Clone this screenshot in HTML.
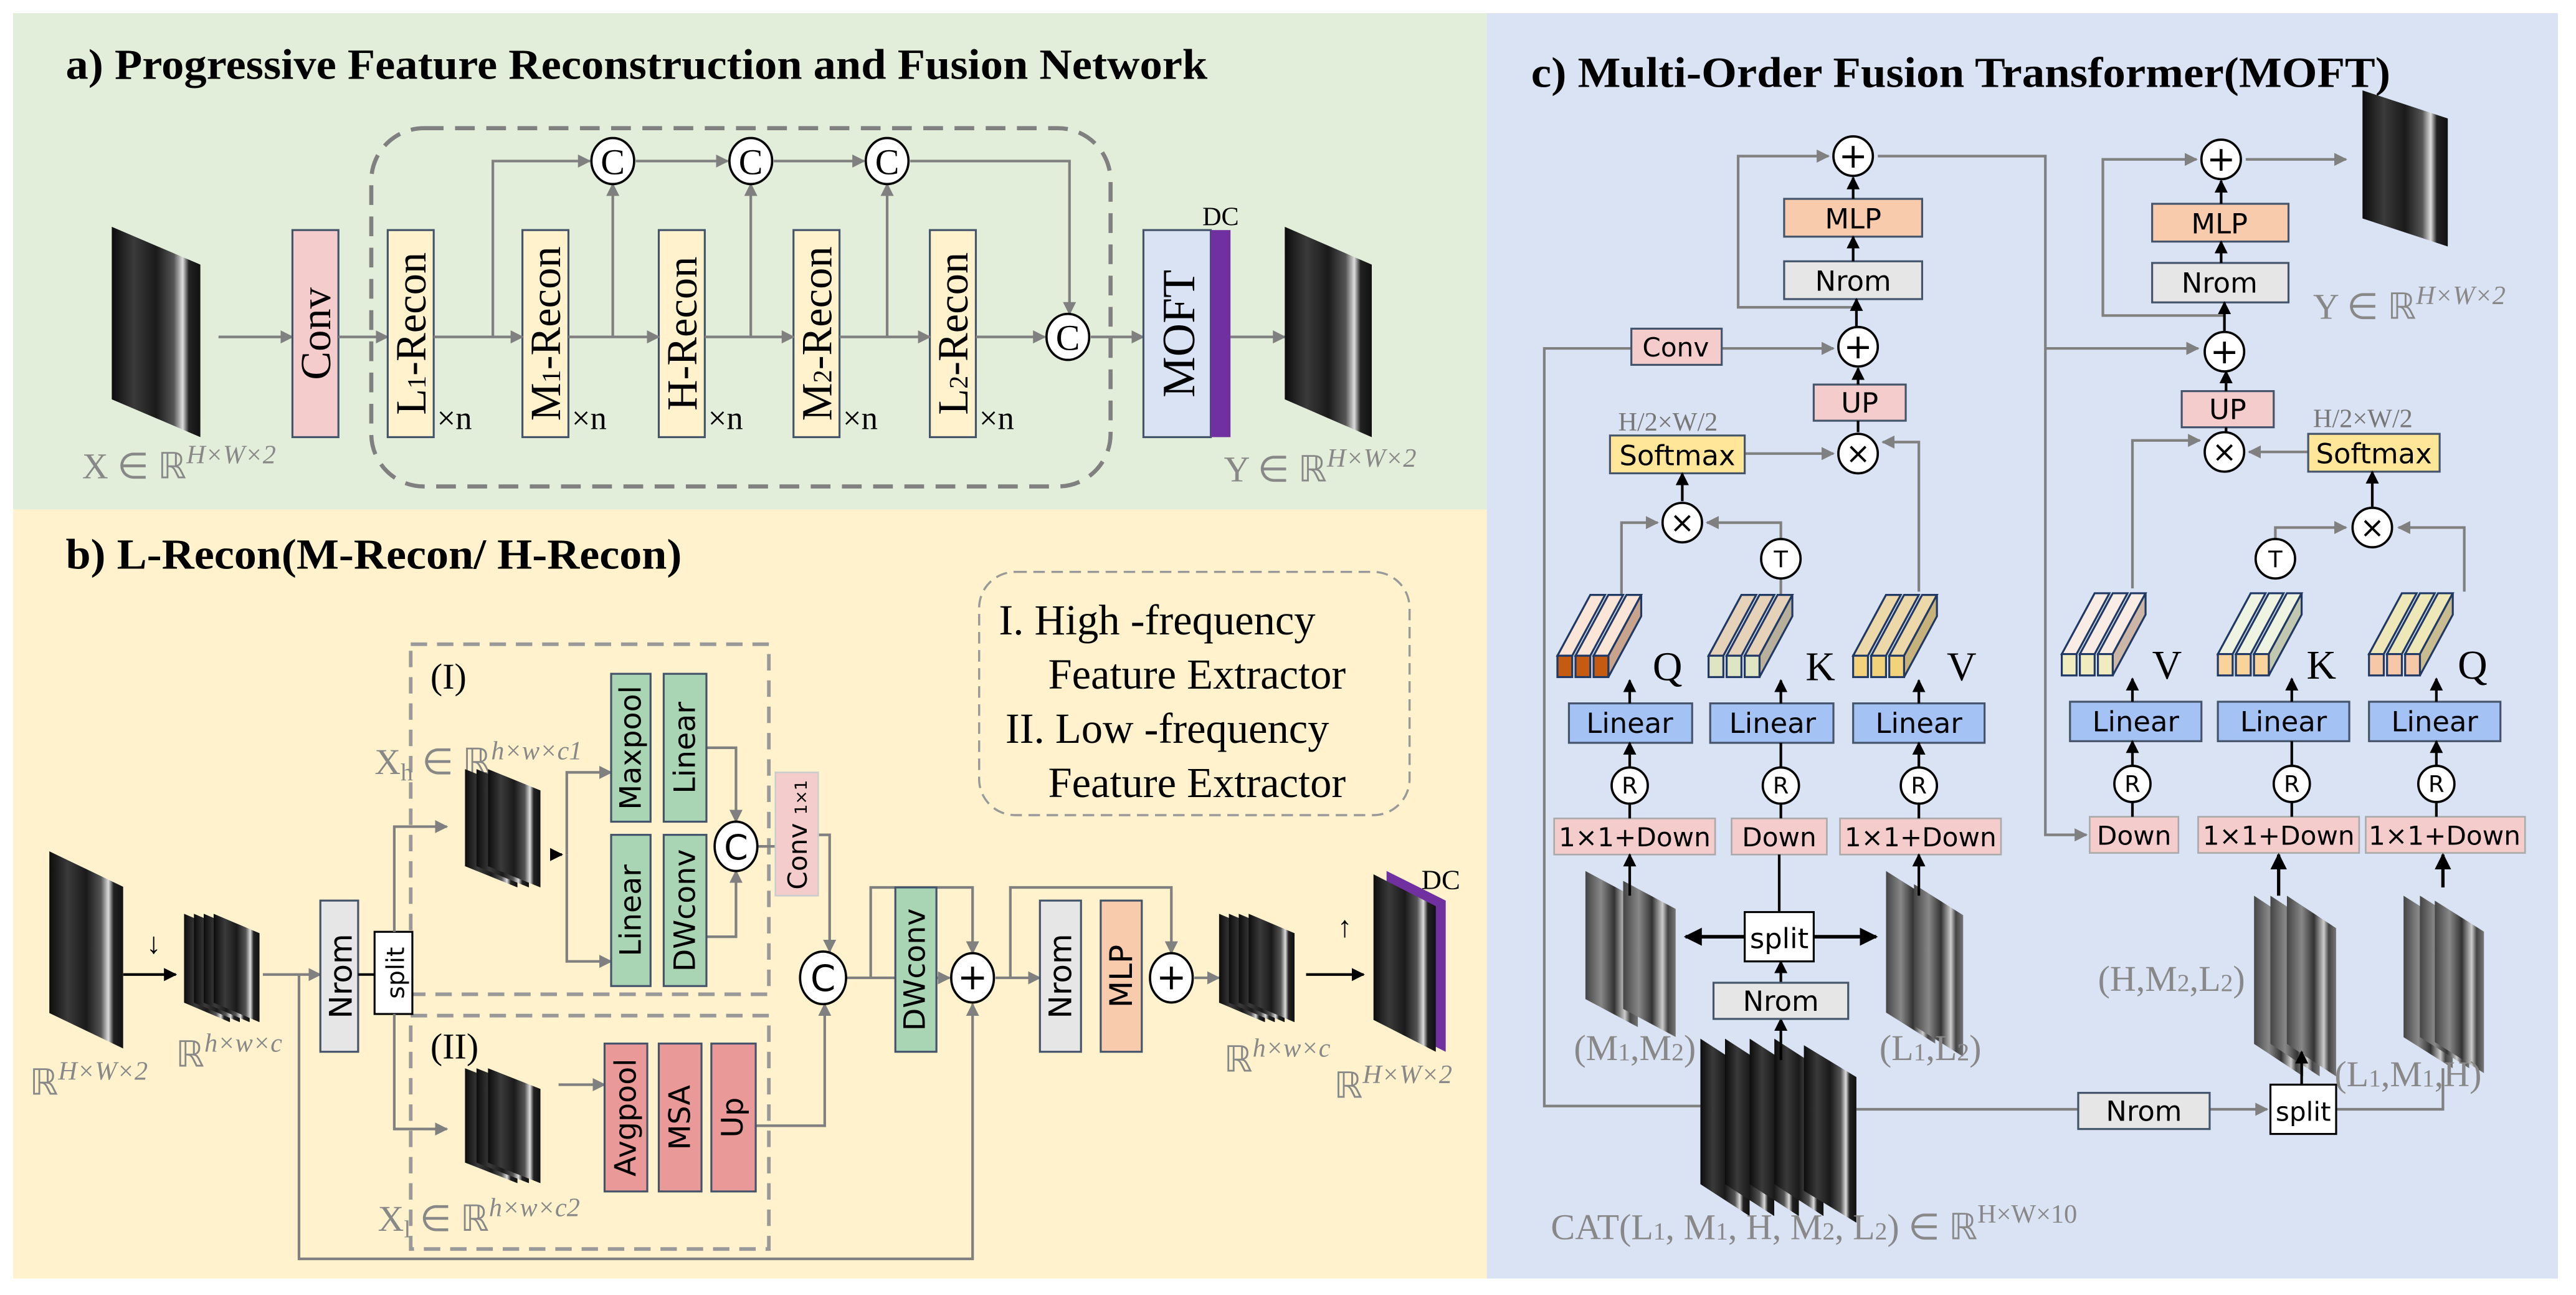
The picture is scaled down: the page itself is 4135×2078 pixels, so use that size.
<!DOCTYPE html>
<html><head><meta charset="utf-8"><style>
html,body{margin:0;padding:0;background:#fff}
svg{display:block}
.s{font-family:"Liberation Serif",serif}
.a{font-family:"DejaVu Sans","Liberation Sans",sans-serif}
.g{stroke:#808080;stroke-width:1.6;fill:none}
.k{stroke:#000;stroke-width:1.6;fill:none}
.bx{stroke:#44546a;stroke-width:1.2}
.cir{fill:#fff;stroke:#000;stroke-width:1.4}
</style></head><body>
<svg width="4135" height="2078" viewBox="0 0 1568 788" preserveAspectRatio="none" xmlns="http://www.w3.org/2000/svg">
<defs>
<linearGradient id="mg" x1="0" y1="0" x2="1" y2="0">
<stop offset="0" stop-color="#0c0c0c"/><stop offset="0.25" stop-color="#3a3a3a"/><stop offset="0.5" stop-color="#1a1a1a"/><stop offset="0.7" stop-color="#555"/><stop offset="0.8" stop-color="#ddd"/><stop offset="0.87" stop-color="#222"/><stop offset="1" stop-color="#111"/></linearGradient>
<linearGradient id="mg2" x1="0" y1="0" x2="1" y2="0">
<stop offset="0" stop-color="#444"/><stop offset="0.3" stop-color="#888"/><stop offset="0.55" stop-color="#333"/><stop offset="0.75" stop-color="#ccc"/><stop offset="0.85" stop-color="#444"/><stop offset="1" stop-color="#777"/></linearGradient>
<symbol id="mri" viewBox="0 0 50 100" preserveAspectRatio="none"><polygon points="0,0 50,18 50,100 0,82" fill="url(#mg)"/></symbol>
<symbol id="mri2" viewBox="0 0 50 100" preserveAspectRatio="none"><polygon points="0,0 50,18 50,100 0,82" fill="url(#mg2)"/></symbol>
<marker id="ag" viewBox="0 0 10 10" refX="9" refY="5" markerWidth="5" markerHeight="5" orient="auto"><path d="M0,0L10,5L0,10z" fill="#808080"/></marker>
<marker id="ab" viewBox="0 0 10 10" refX="9" refY="5" markerWidth="5" markerHeight="5" orient="auto"><path d="M0,0L10,5L0,10z" fill="#000"/></marker>
</defs>

<rect x="8" y="8" width="897" height="302" fill="#e2eed9"/>
<rect x="8" y="310" width="897" height="468" fill="#fff2cc"/>
<rect x="905" y="8" width="652" height="770" fill="#dae3f3"/>

<!-- ===== Panel a ===== -->
<text x="40" y="48" class="s" font-size="26" font-weight="bold" textLength="695" lengthAdjust="spacingAndGlyphs">a) Progressive Feature Reconstruction and Fusion Network</text>
<use href="#mri" x="68" y="138" width="54" height="128"/>
<text x="50" y="291" class="s" font-size="22" fill="#888">X ∈ ℝ<tspan font-style="italic" font-size="16" dy="-9">H×W×2</tspan></text>
<line x1="133" y1="205" x2="178" y2="205" class="g" marker-end="url(#ag)"/>
<rect x="178" y="140" width="28" height="126" fill="#f4cccc" class="bx"/>
<text transform="rotate(-90 192 203)" x="192" y="212" class="s" font-size="26" text-anchor="middle">Conv</text>
<rect x="226" y="78" width="450" height="218" rx="32" fill="none" stroke="#808080" stroke-width="2.5" stroke-dasharray="12,7"/>
<line x1="206" y1="205" x2="236" y2="205" class="g" marker-end="url(#ag)"/>
<g class="bx" fill="#fff2cc">
<rect x="236" y="140" width="28" height="126"/><rect x="318" y="140" width="28" height="126"/><rect x="401" y="140" width="28" height="126"/><rect x="483" y="140" width="28" height="126"/><rect x="566" y="140" width="28" height="126"/></g>
<g class="s" font-size="26" text-anchor="middle">
<text transform="rotate(-90 250 203)" x="250" y="212">L<tspan font-size="16">1</tspan>-Recon</text>
<text transform="rotate(-90 332 203)" x="332" y="212">M<tspan font-size="16">1</tspan>-Recon</text>
<text transform="rotate(-90 415 203)" x="415" y="212">H-Recon</text>
<text transform="rotate(-90 497 203)" x="497" y="212">M<tspan font-size="16">2</tspan>-Recon</text>
<text transform="rotate(-90 580 203)" x="580" y="212">L<tspan font-size="16">2</tspan>-Recon</text>
</g>
<g class="s" font-size="20"><text x="266" y="261">×n</text><text x="348" y="261">×n</text><text x="431" y="261">×n</text><text x="513" y="261">×n</text><text x="596" y="261">×n</text></g>
<g class="g">
<line x1="264" y1="205" x2="318" y2="205" marker-end="url(#ag)"/>
<line x1="346" y1="205" x2="401" y2="205" marker-end="url(#ag)"/>
<line x1="429" y1="205" x2="483" y2="205" marker-end="url(#ag)"/>
<line x1="511" y1="205" x2="566" y2="205" marker-end="url(#ag)"/>
<line x1="594" y1="205" x2="636" y2="205" marker-end="url(#ag)"/>
<polyline points="300,205 300,98 359,98" marker-end="url(#ag)"/>
<line x1="387" y1="98" x2="443" y2="98" marker-end="url(#ag)"/>
<line x1="471" y1="98" x2="526" y2="98" marker-end="url(#ag)"/>
<polyline points="554,98 651,98 651,191" marker-end="url(#ag)"/>
<line x1="373" y1="205" x2="373" y2="112" marker-end="url(#ag)"/>
<line x1="457" y1="205" x2="457" y2="112" marker-end="url(#ag)"/>
<line x1="540" y1="205" x2="540" y2="112" marker-end="url(#ag)"/>
<line x1="664" y1="205" x2="696" y2="205" marker-end="url(#ag)"/>
<line x1="749" y1="205" x2="782" y2="205" marker-end="url(#ag)"/>
</g>
<g class="cir"><ellipse cx="373" cy="98" rx="13" ry="14"/><ellipse cx="457" cy="98" rx="13" ry="14"/><ellipse cx="540" cy="98" rx="13" ry="14"/><ellipse cx="650" cy="205" rx="13" ry="14"/></g>
<g class="s" font-size="22" text-anchor="middle"><text x="373" y="106">C</text><text x="457" y="106">C</text><text x="540" y="106">C</text><text x="650" y="213">C</text></g>
<rect x="696" y="140" width="41" height="126" fill="#dae3f3" class="bx"/>
<rect x="737" y="140" width="12" height="126" fill="#7030a0"/>
<text transform="rotate(-90 717 203)" x="717" y="213" class="s" font-size="28" text-anchor="middle">MOFT</text>
<text x="743" y="137" class="s" font-size="16" text-anchor="middle">DC</text>
<use href="#mri" x="782" y="138" width="53" height="128"/>
<text x="745" y="293" class="s" font-size="22" fill="#888">Y ∈ ℝ<tspan font-style="italic" font-size="16" dy="-9">H×W×2</tspan></text>

<!-- ===== Panel b ===== -->
<text x="40" y="346" class="s" font-size="26" font-weight="bold" textLength="375" lengthAdjust="spacingAndGlyphs">b) L-Recon(M-Recon/ H-Recon)</text>
<rect x="596" y="348" width="262" height="148" rx="22" fill="none" stroke="#999" stroke-width="1.3" stroke-dasharray="7,4"/>
<g class="s" font-size="26"><text x="608" y="386">I. High -frequency</text><text x="638" y="419">Feature Extractor</text><text x="612" y="452">II. Low -frequency</text><text x="638" y="485">Feature Extractor</text></g>
<rect x="250" y="392" width="218" height="213" fill="none" stroke="#999" stroke-width="2.2" stroke-dasharray="10,6"/>
<rect x="250" y="618" width="218" height="142" fill="none" stroke="#999" stroke-width="2.2" stroke-dasharray="10,6"/>
<g class="s" font-size="22"><text x="262" y="419">(I)</text><text x="262" y="644">(II)</text></g>
<text x="228" y="471" class="s" font-size="22" fill="#888">X<tspan font-size="15" dy="4">h</tspan><tspan dy="-4"> ∈ ℝ</tspan><tspan font-style="italic" font-size="16" dy="-9">h×w×c1</tspan></text>
<text x="230" y="749" class="s" font-size="22" fill="#888">X<tspan font-size="15" dy="4">l</tspan><tspan dy="-4"> ∈ ℝ</tspan><tspan font-style="italic" font-size="16" dy="-9">h×w×c2</tspan></text>
<use href="#mri" x="30" y="518" width="45" height="120"/>
<text x="18" y="666" class="s" font-size="22" fill="#888">ℝ<tspan font-style="italic" font-size="16" dy="-9">H×W×2</tspan></text>
<text x="89" y="580" class="s" font-size="18">↓</text>
<line x1="75" y1="593" x2="107" y2="593" class="k" stroke-width="2.2" marker-end="url(#ab)"/>
<use href="#mri" x="112" y="556" width="28" height="66"/><use href="#mri" x="118" y="556" width="28" height="66"/><use href="#mri" x="124" y="556" width="28" height="66"/><use href="#mri" x="130" y="556" width="28" height="66"/>
<text x="107" y="649" class="s" font-size="22" fill="#888">ℝ<tspan font-style="italic" font-size="16" dy="-9">h×w×c</tspan></text>
<line x1="160" y1="593" x2="195" y2="593" class="g" marker-end="url(#ag)"/>
<rect x="195" y="548" width="23" height="92" fill="#e7e6e6" class="bx"/>
<text transform="rotate(-90 207 594)" x="207" y="601" class="a" font-size="19" text-anchor="middle">Nrom</text>
<rect x="228" y="567" width="23" height="50" fill="#fff" stroke="#000" stroke-width="1.2"/>
<text transform="rotate(-90 240 592)" x="240" y="598" class="a" font-size="15" text-anchor="middle">split</text>
<line x1="218" y1="593" x2="228" y2="593" stroke="#000" stroke-width="1.5"/>
<g class="g">
<polyline points="240,567 240,503 272,503" marker-end="url(#ag)"/>
<polyline points="240,617 240,687 272,687" marker-end="url(#ag)"/>
<polyline points="182,593 182,766 592,766 592,611" marker-end="url(#ag)"/>
</g>
<use href="#mri" x="283" y="468" width="32" height="72"/><use href="#mri" x="290" y="468" width="32" height="72"/><use href="#mri" x="297" y="468" width="32" height="72"/>
<use href="#mri" x="283" y="650" width="32" height="70"/><use href="#mri" x="290" y="650" width="32" height="70"/><use href="#mri" x="297" y="650" width="32" height="70"/>
<line x1="335" y1="520" x2="342" y2="520" class="k" marker-end="url(#ab)"/>
<g class="g"><polyline points="345,520 345,470 372,470" marker-end="url(#ag)"/><polyline points="345,520 345,585 372,585" marker-end="url(#ag)"/>
<polyline points="430,455 448,455 448,500" marker-end="url(#ag)"/><polyline points="430,570 448,570 448,530" marker-end="url(#ag)"/>
<line x1="461" y1="515" x2="472" y2="515"/>
<polyline points="498,508 505,508 505,579" marker-end="url(#ag)"/>
<line x1="340" y1="660" x2="368" y2="660" marker-end="url(#ag)"/>
<polyline points="460,685 502,685 502,611" marker-end="url(#ag)"/>
<line x1="515" y1="595" x2="545" y2="595"/>
<line x1="570" y1="595" x2="578" y2="595" marker-end="url(#ag)"/>
<polyline points="530,595 530,540 592,540 592,580" marker-end="url(#ag)"/>
<line x1="606" y1="595" x2="633" y2="595" marker-end="url(#ag)"/>
<polyline points="615,595 615,540 713,540 713,580" marker-end="url(#ag)"/>
<line x1="727" y1="595" x2="742" y2="595" marker-end="url(#ag)"/>
</g>
<g class="bx" fill="#a9d5b5">
<rect x="372" y="410" width="24" height="90"/><rect x="404" y="410" width="26" height="90"/>
<rect x="372" y="508" width="24" height="92"/><rect x="404" y="508" width="26" height="92"/>
<rect x="545" y="540" width="25" height="100"/></g>
<g class="a" font-size="18" text-anchor="middle">
<text transform="rotate(-90 384 455)" x="384" y="461">Maxpool</text>
<text transform="rotate(-90 417 455)" x="417" y="461">Linear</text>
<text transform="rotate(-90 384 554)" x="384" y="560">Linear</text>
<text transform="rotate(-90 417 554)" x="417" y="560">DWconv</text>
<text transform="rotate(-90 557 590)" x="557" y="596">DWconv</text>
</g>
<rect x="472" y="470" width="26" height="75" fill="#f4cccc" stroke="#ccc"/>
<text transform="rotate(-90 485 508)" x="485" y="514" class="a" font-size="16" text-anchor="middle">Conv <tspan font-size="10">1×1</tspan></text>
<ellipse cx="448" cy="515" rx="13" ry="15" class="cir"/><text x="448" y="523" class="a" font-size="21" text-anchor="middle">C</text>
<ellipse cx="501" cy="595" rx="14" ry="16" class="cir"/><text x="501" y="603" class="a" font-size="22" text-anchor="middle">C</text>
<g class="bx" fill="#ea9999"><rect x="368" y="635" width="26" height="90"/><rect x="401" y="635" width="26" height="90"/><rect x="433" y="635" width="27" height="90"/></g>
<g class="a" font-size="18" text-anchor="middle">
<text transform="rotate(-90 381 680)" x="381" y="686">Avgpool</text>
<text transform="rotate(-90 414 680)" x="414" y="686">MSA</text>
<text transform="rotate(-90 446 680)" x="446" y="686">Up</text></g>
<ellipse cx="592" cy="595" rx="13" ry="15" class="cir"/><text x="592" y="602" class="a" font-size="22" text-anchor="middle">+</text>
<rect x="633" y="548" width="25" height="92" fill="#e7e6e6" class="bx"/>
<rect x="670" y="548" width="25" height="92" fill="#f8cbad" class="bx"/>
<text transform="rotate(-90 645 594)" x="645" y="601" class="a" font-size="19" text-anchor="middle">Nrom</text>
<text transform="rotate(-90 682 594)" x="682" y="601" class="a" font-size="19" text-anchor="middle">MLP</text>
<ellipse cx="713" cy="595" rx="13" ry="15" class="cir"/><text x="713" y="602" class="a" font-size="22" text-anchor="middle">+</text>
<use href="#mri" x="742" y="556" width="28" height="66"/><use href="#mri" x="748" y="556" width="28" height="66"/><use href="#mri" x="754" y="556" width="28" height="66"/><use href="#mri" x="760" y="556" width="28" height="66"/>
<text x="745" y="652" class="s" font-size="22" fill="#888">ℝ<tspan font-style="italic" font-size="16" dy="-9">h×w×c</tspan></text>
<text x="814" y="570" class="s" font-size="18">↑</text>
<line x1="795" y1="593" x2="830" y2="593" class="k" stroke-width="2.2" marker-end="url(#ab)"/>
<polygon points="844,530 880,548 880,640 844,622" fill="#7030a0"/>
<use href="#mri" x="836" y="532" width="38" height="108"/>
<text x="877" y="541" class="s" font-size="17" text-anchor="middle">DC</text>
<text x="812" y="668" class="s" font-size="22" fill="#888">ℝ<tspan font-style="italic" font-size="16" dy="-9">H×W×2</tspan></text>

<!-- ===== Panel c ===== -->
<text x="932" y="53" class="s" font-size="26" font-weight="bold" textLength="523" lengthAdjust="spacingAndGlyphs">c) Multi-Order Fusion Transformer(MOFT)</text>
<g class="g">
<polyline points="1035,673 940,673 940,212 993,212"/>
<line x1="1048" y1="212" x2="1116" y2="212" marker-end="url(#ag)"/>
<polyline points="1131,187 1058,187 1058,95 1113,95" marker-end="url(#ag)"/>
<polyline points="1143,95 1245,95 1245,508 1270,508" marker-end="url(#ag)"/>
<line x1="1245" y1="212" x2="1338" y2="212" marker-end="url(#ag)"/>
<line x1="1062" y1="276" x2="1116" y2="276" marker-end="url(#ag)"/>
<polyline points="1168,360 1168,269 1146,269" marker-end="url(#ag)"/>
<polyline points="987,362 987,318 1009,318" marker-end="url(#ag)"/>
<polyline points="1084,352 1084,318 1039,318" marker-end="url(#ag)"/>
<line x1="1084" y1="362" x2="1084" y2="352"/>
<polyline points="1354,192 1280,192 1280,97 1337,97" marker-end="url(#ag)"/>
<line x1="1367" y1="97" x2="1428" y2="97" marker-end="url(#ag)"/>
<line x1="1405" y1="275" x2="1369" y2="275" marker-end="url(#ag)"/>
<polyline points="1298,358 1298,268 1339,268" marker-end="url(#ag)"/>
<polyline points="1385,352 1385,321 1428,321" marker-end="url(#ag)"/>
<polyline points="1500,360 1500,321 1460,321" marker-end="url(#ag)"/>
<line x1="1130" y1="675" x2="1265" y2="675"/>
<line x1="1345" y1="675" x2="1380" y2="675" marker-end="url(#ag)"/>
<polyline points="1422,675 1487,675 1487,650"/>
</g>
<rect x="1086" y="121" width="84" height="23" fill="#f8cbad" class="bx"/><text x="1128" y="139" class="a" font-size="17" text-anchor="middle">MLP</text>
<rect x="1086" y="159" width="84" height="23" fill="#e7e6e6" class="bx"/><text x="1128" y="177" class="a" font-size="17" text-anchor="middle">Nrom</text>
<rect x="1104" y="234" width="56" height="22" fill="#f4cccc" class="bx"/><text x="1132" y="251" class="a" font-size="17" text-anchor="middle">UP</text>
<rect x="993" y="200" width="55" height="22" fill="#f4cccc" class="bx"/><text x="1020" y="217" class="a" font-size="16" text-anchor="middle">Conv</text>
<rect x="980" y="265" width="82" height="23" fill="#ffe699" class="bx"/><text x="1021" y="283" class="a" font-size="17" text-anchor="middle">Softmax</text>
<text x="985" y="262" class="s" font-size="16" fill="#777">H/2×W/2</text>
<g class="k">
<line x1="1128" y1="121" x2="1128" y2="108" marker-end="url(#ab)"/>
<line x1="1128" y1="159" x2="1128" y2="144" marker-end="url(#ab)"/>
<line x1="1130" y1="199" x2="1130" y2="182" marker-end="url(#ab)"/>
<line x1="1131" y1="234" x2="1131" y2="224" marker-end="url(#ab)"/>
<line x1="1131" y1="263" x2="1131" y2="256"/>
<line x1="1024" y1="305" x2="1024" y2="288" marker-end="url(#ab)"/>
</g>
<g class="cir"><circle cx="1128" cy="95" r="12"/><circle cx="1131" cy="211" r="12"/><circle cx="1131" cy="276" r="12"/><circle cx="1024" cy="318" r="12"/><circle cx="1084" cy="340" r="12"/></g>
<g class="a" text-anchor="middle"><text x="1128" y="102" font-size="21">+</text><text x="1131" y="218" font-size="21">+</text><text x="1131" y="282" font-size="18">×</text><text x="1024" y="324" font-size="18">×</text><text x="1084" y="345" font-size="14">T</text></g>
<rect x="1310" y="124" width="83" height="23" fill="#f8cbad" class="bx"/><text x="1351" y="142" class="a" font-size="17" text-anchor="middle">MLP</text>
<rect x="1310" y="160" width="83" height="24" fill="#e7e6e6" class="bx"/><text x="1351" y="178" class="a" font-size="17" text-anchor="middle">Nrom</text>
<rect x="1328" y="238" width="56" height="22" fill="#f4cccc" class="bx"/><text x="1356" y="255" class="a" font-size="17" text-anchor="middle">UP</text>
<rect x="1405" y="264" width="80" height="23" fill="#ffe699" class="bx"/><text x="1445" y="282" class="a" font-size="17" text-anchor="middle">Softmax</text>
<text x="1408" y="260" class="s" font-size="16" fill="#777">H/2×W/2</text>
<g class="k">
<line x1="1352" y1="124" x2="1352" y2="110" marker-end="url(#ab)"/>
<line x1="1352" y1="160" x2="1352" y2="147" marker-end="url(#ab)"/>
<line x1="1354" y1="202" x2="1354" y2="184" marker-end="url(#ab)"/>
<line x1="1355" y1="238" x2="1355" y2="226" marker-end="url(#ab)"/>
<line x1="1355" y1="263" x2="1355" y2="260"/>
<line x1="1444" y1="309" x2="1444" y2="287" marker-end="url(#ab)"/>
</g>
<g class="cir"><circle cx="1352" cy="97" r="12"/><circle cx="1354" cy="214" r="12"/><circle cx="1354" cy="275" r="12"/><circle cx="1444" cy="321" r="12"/><circle cx="1385" cy="340" r="12"/></g>
<g class="a" text-anchor="middle"><text x="1352" y="104" font-size="21">+</text><text x="1354" y="221" font-size="21">+</text><text x="1354" y="281" font-size="18">×</text><text x="1444" y="327" font-size="18">×</text><text x="1385" y="345" font-size="14">T</text></g>
<use href="#mri" x="1438" y="55" width="52" height="95"/>
<text x="1408" y="194" class="s" font-size="22" fill="#888">Y ∈ ℝ<tspan font-style="italic" font-size="16" dy="-9">H×W×2</tspan></text>

<g stroke="#1f3864" stroke-width="1.2">
<g fill="#fbe5d6"><polygon points="948,399 957,399 977,362 968,362"/><polygon points="959,399 968,399 988,362 979,362"/><polygon points="970,399 979,399 999,362 990,362"/></g>
<polygon points="979,399 979,412 999,375 999,362" fill="#c9a48c"/>
<g fill="#c55a11"><rect x="948" y="399" width="9" height="13"/><rect x="959" y="399" width="9" height="13"/><rect x="970" y="399" width="9" height="13"/></g>
<g fill="#e6d2b8"><polygon points="1040,399 1049,399 1069,362 1060,362"/><polygon points="1051,399 1060,399 1080,362 1071,362"/><polygon points="1062,399 1071,399 1091,362 1082,362"/></g>
<polygon points="1071,399 1071,412 1091,375 1091,362" fill="#b8b09a"/>
<g fill="#dde5c2"><rect x="1040" y="399" width="9" height="13"/><rect x="1051" y="399" width="9" height="13"/><rect x="1062" y="399" width="9" height="13"/></g>
<g fill="#ecd8a8"><polygon points="1128,399 1137,399 1157,362 1148,362"/><polygon points="1139,399 1148,399 1168,362 1159,362"/><polygon points="1150,399 1159,399 1179,362 1170,362"/></g>
<polygon points="1159,399 1159,412 1179,375 1179,362" fill="#c6b27a"/>
<g fill="#f2d27a"><rect x="1128" y="399" width="9" height="13"/><rect x="1139" y="399" width="9" height="13"/><rect x="1150" y="399" width="9" height="13"/></g>
<g fill="#f8ece4"><polygon points="1255,398 1264,398 1284,361 1275,361"/><polygon points="1266,398 1275,398 1295,361 1286,361"/><polygon points="1277,398 1286,398 1306,361 1297,361"/></g>
<polygon points="1286,398 1286,411 1306,374 1306,361" fill="#ccb6a8"/>
<g fill="#f0ecc0"><rect x="1255" y="398" width="9" height="13"/><rect x="1266" y="398" width="9" height="13"/><rect x="1277" y="398" width="9" height="13"/></g>
<g fill="#eef3e2"><polygon points="1350,398 1359,398 1379,361 1370,361"/><polygon points="1361,398 1370,398 1390,361 1381,361"/><polygon points="1372,398 1381,398 1401,361 1392,361"/></g>
<polygon points="1381,398 1381,411 1401,374 1401,361" fill="#c2c8b0"/>
<g fill="#f8d49c"><rect x="1350" y="398" width="9" height="13"/><rect x="1361" y="398" width="9" height="13"/><rect x="1372" y="398" width="9" height="13"/></g>
<g fill="#eee8b8"><polygon points="1442,398 1451,398 1471,361 1462,361"/><polygon points="1453,398 1462,398 1482,361 1473,361"/><polygon points="1464,398 1473,398 1493,361 1484,361"/></g>
<polygon points="1473,398 1473,411 1493,374 1493,361" fill="#c8bc90"/>
<g fill="#f6c8a8"><rect x="1442" y="398" width="9" height="13"/><rect x="1453" y="398" width="9" height="13"/><rect x="1464" y="398" width="9" height="13"/></g>
</g>
<g class="s" font-size="25"><text x="1006" y="414">Q</text><text x="1099" y="414">K</text><text x="1185" y="414">V</text><text x="1310" y="413">V</text><text x="1404" y="413">K</text><text x="1496" y="413">Q</text></g>
<g fill="#a4c2f4" class="bx">
<rect x="955" y="428" width="75" height="24"/><rect x="1041" y="428" width="75" height="24"/><rect x="1128" y="428" width="80" height="24"/>
<rect x="1260" y="427" width="80" height="24"/><rect x="1350" y="427" width="80" height="24"/><rect x="1442" y="427" width="80" height="24"/></g>
<g class="a" font-size="17" text-anchor="middle">
<text x="992" y="446">Linear</text><text x="1079" y="446">Linear</text><text x="1168" y="446">Linear</text>
<text x="1300" y="445">Linear</text><text x="1390" y="445">Linear</text><text x="1482" y="445">Linear</text></g>
<g fill="#f4cccc" stroke="#aaa" stroke-width="1">
<rect x="946" y="498" width="98" height="22"/><rect x="1054" y="498" width="58" height="22"/><rect x="1120" y="498" width="98" height="22"/>
<rect x="1272" y="497" width="54" height="22"/><rect x="1338" y="497" width="98" height="22"/><rect x="1440" y="497" width="97" height="22"/></g>
<g class="a" font-size="16" text-anchor="middle">
<text x="995" y="515">1×1+Down</text><text x="1083" y="515">Down</text><text x="1169" y="515">1×1+Down</text>
<text x="1299" y="514">Down</text><text x="1387" y="514">1×1+Down</text><text x="1488" y="514">1×1+Down</text></g>
<g class="k">
<line x1="992" y1="498" x2="992" y2="489"/><line x1="992" y1="467" x2="992" y2="452" marker-end="url(#ab)"/>
<line x1="1084" y1="498" x2="1084" y2="489"/><line x1="1084" y1="467" x2="1084" y2="452"/>
<line x1="1168" y1="498" x2="1168" y2="489"/><line x1="1168" y1="467" x2="1168" y2="452" marker-end="url(#ab)"/>
<line x1="1298" y1="497" x2="1298" y2="488"/><line x1="1298" y1="466" x2="1298" y2="451" marker-end="url(#ab)"/>
<line x1="1395" y1="497" x2="1395" y2="488"/><line x1="1395" y1="466" x2="1395" y2="451"/>
<line x1="1483" y1="497" x2="1483" y2="488"/><line x1="1483" y1="466" x2="1483" y2="451" marker-end="url(#ab)"/>
<line x1="992" y1="428" x2="992" y2="414" marker-end="url(#ab)"/><line x1="1084" y1="428" x2="1084" y2="414" marker-end="url(#ab)"/><line x1="1168" y1="428" x2="1168" y2="414" marker-end="url(#ab)"/>
<line x1="1298" y1="427" x2="1298" y2="413" marker-end="url(#ab)"/><line x1="1395" y1="427" x2="1395" y2="413" marker-end="url(#ab)"/><line x1="1483" y1="427" x2="1483" y2="413" marker-end="url(#ab)"/>
</g>
<g class="cir"><circle cx="992" cy="478" r="11"/><circle cx="1084" cy="478" r="11"/><circle cx="1168" cy="478" r="11"/><circle cx="1298" cy="477" r="11"/><circle cx="1395" cy="477" r="11"/><circle cx="1483" cy="477" r="11"/></g>
<g class="a" font-size="14" text-anchor="middle"><text x="992" y="483">R</text><text x="1084" y="483">R</text><text x="1168" y="483">R</text><text x="1298" y="482">R</text><text x="1395" y="482">R</text><text x="1483" y="482">R</text></g>
<use href="#mri2" x="965" y="530" width="32" height="95"/><use href="#mri2" x="988" y="536" width="32" height="95"/>
<use href="#mri2" x="1148" y="530" width="30" height="105"/><use href="#mri2" x="1165" y="538" width="30" height="105"/>
<use href="#mri" x="1035" y="632" width="30" height="108"/><use href="#mri" x="1050" y="632" width="30" height="108"/><use href="#mri" x="1065" y="632" width="30" height="108"/><use href="#mri" x="1080" y="632" width="30" height="108"/><use href="#mri" x="1098" y="636" width="32" height="108"/>
<use href="#mri2" x="1372" y="545" width="30" height="110"/><use href="#mri2" x="1382" y="545" width="30" height="110"/><use href="#mri2" x="1392" y="545" width="30" height="110"/>
<use href="#mri2" x="1463" y="545" width="30" height="105"/><use href="#mri2" x="1473" y="545" width="30" height="105"/><use href="#mri2" x="1482" y="548" width="30" height="105"/>
<g class="k">
<line x1="1083" y1="520" x2="1083" y2="555"/>
<line x1="1062" y1="570" x2="1026" y2="570" stroke-width="2.2" marker-end="url(#ab)"/>
<line x1="1104" y1="570" x2="1142" y2="570" stroke-width="2.2" marker-end="url(#ab)"/>
<line x1="1084" y1="598" x2="1084" y2="585" marker-end="url(#ab)"/>
<line x1="1084" y1="645" x2="1084" y2="620" marker-end="url(#ab)"/>
<line x1="992" y1="545" x2="992" y2="520" marker-end="url(#ab)"/>
<line x1="1168" y1="545" x2="1168" y2="520" marker-end="url(#ab)"/>
<line x1="1387" y1="545" x2="1387" y2="520" stroke-width="2" marker-end="url(#ab)"/>
<line x1="1487" y1="540" x2="1487" y2="520" stroke-width="2" marker-end="url(#ab)"/>
<line x1="1401" y1="660" x2="1401" y2="640" marker-end="url(#ab)"/>
</g>
<rect x="1062" y="555" width="42" height="30" fill="#fff" stroke="#000" stroke-width="1.2"/><text x="1083" y="577" class="a" font-size="17" text-anchor="middle">split</text>
<rect x="1043" y="598" width="82" height="22" fill="#e7e6e6" class="bx"/><text x="1084" y="615" class="a" font-size="17" text-anchor="middle">Nrom</text>
<rect x="1265" y="665" width="80" height="22" fill="#e7e6e6" class="bx"/><text x="1305" y="682" class="a" font-size="17" text-anchor="middle">Nrom</text>
<rect x="1382" y="660" width="40" height="30" fill="#fff" stroke="#000" stroke-width="1.2"/><text x="1402" y="682" class="a" font-size="16" text-anchor="middle">split</text>
<g class="s" font-size="22" fill="#888">
<text x="958" y="645">(M<tspan font-size="15">1</tspan>,M<tspan font-size="15">2</tspan>)</text>
<text x="1144" y="645">(L<tspan font-size="15">1</tspan>,L<tspan font-size="15">2</tspan>)</text>
<text x="1277" y="603">(H,M<tspan font-size="15">2</tspan>,L<tspan font-size="15">2</tspan>)</text>
<text x="1421" y="661">(L<tspan font-size="15">1</tspan>,M<tspan font-size="15">1</tspan>,H)</text>
<text x="944" y="754">CAT(L<tspan font-size="15">1</tspan>, M<tspan font-size="15">1</tspan>, H, M<tspan font-size="15">2</tspan>, L<tspan font-size="15">2</tspan>) ∈ ℝ<tspan font-size="16" dy="-10">H×W×10</tspan></text>
</g>
</svg>
</body></html>
